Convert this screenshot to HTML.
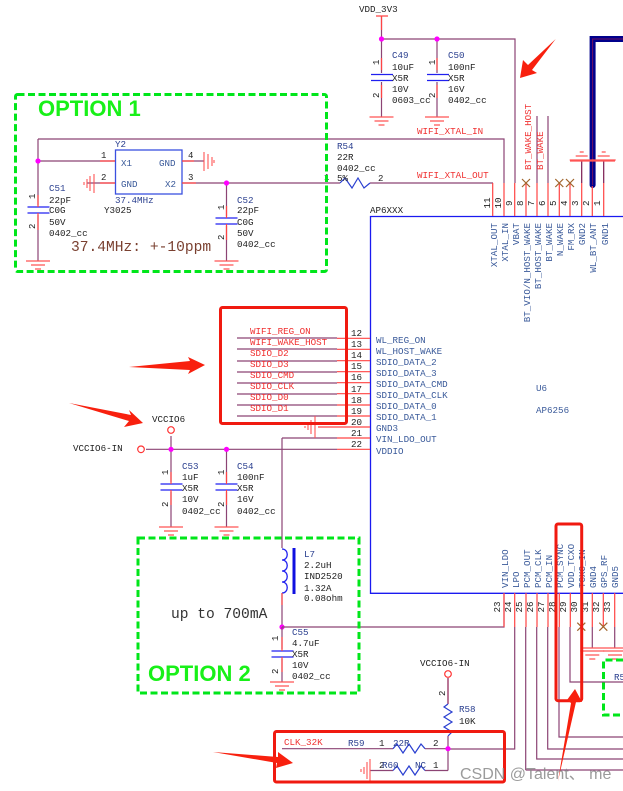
<!DOCTYPE html>
<html><head><meta charset="utf-8"><style>
html,body{margin:0;padding:0;background:#fff;width:623px;height:791px;overflow:hidden}
svg{display:block}
text{font-family:"Liberation Mono",monospace;font-size:9.2px;fill:#222}
.b{fill:#2a3f8f}.r{fill:#f03030}.k{fill:#222}.n{font-size:9px;fill:#222}
.pl{fill:#3a5a9a}
.w{stroke:#8c4474;stroke-width:1.2;fill:none}
.p{stroke:#f44;stroke-width:1.2;fill:none}
.z{stroke:#2a3fd0;stroke-width:1.2;fill:none}
.c{stroke:#2020f0;stroke-width:1.3;fill:none}
.g{fill:none;stroke:#00e61a;stroke-width:3;stroke-dasharray:7 3.5}
.rb{fill:none;stroke:#f01a10;stroke-width:3}
.opt{font-family:"Liberation Sans",sans-serif;font-weight:bold;font-size:22px;fill:#18f018}
.big{font-size:14.6px}
</style></head><body>
<svg width="623" height="791" viewBox="0 0 623 791" xmlns="http://www.w3.org/2000/svg">
<defs>
<g id="gd"><path d="M-12 0H12M-7 4H7M-3 8H3" stroke="#f55" stroke-width="1.2" fill="none"/></g>
<g id="gu"><path d="M-12 0H12M-6 -4H6M-2 -8H2" stroke="#f55" stroke-width="1.2" fill="none"/></g>
<g id="x"><path d="M-4 -4L4 4M4 -4L-4 4" stroke="#a0642a" stroke-width="1.2"/></g>
<circle id="d" r="2.6" fill="#f0f"/>
<circle id="o" r="3.3" fill="#fff" stroke="#f33" stroke-width="1.2"/>
<path id="cap" d="M-11 -3H11M-11 3H11" stroke="#2020f0" stroke-width="1.3" fill="none"/>
</defs>

<!-- wires -->
<path class="w" d="M38 139H504V183M38 139V261M38 161H115M182 161H204M87 183H115M182 183H340M370 183H493M226.500 183V261
M381.500 16V117M437 39V117M381.500 39H515V183M537 116V183M548 116V183"/>
<path class="p" d="M376 16H388M381.500 16V30M381.500 58V70M381.500 85V98M437 58V70M437 85V98"/>

<!-- thick wl bt ant -->
<path d="M592.600 185V39H623" fill="none" stroke="#00008c" stroke-width="6" stroke-linecap="round"/>
<path d="M592.600 185V39H623" fill="none" stroke="#701060" stroke-width="1"/>

<!-- Y2 -->
<rect x="115.500" y="150" width="66.500" height="44" fill="#fff" stroke="#3a50e0" stroke-width="1.3"/>
<path class="p" d="M100 161H115M182 161H194M100 183H115M182 183H196"/>
<path d="M204 152V171M208 154V169M212 157V166M214 160V163" stroke="#f55" stroke-width="1.1" fill="none"/>
<path d="M94 174V193M90 176V191M87 179V188M84 182V185" stroke="#f55" stroke-width="1.1" fill="none"/>
<text x="115" y="147" class="b">Y2</text>
<text x="121" y="166" class="pl">X1</text><text x="159" y="166" class="pl">GND</text>
<text x="121" y="187" class="pl">GND</text><text x="165" y="187" class="pl">X2</text>
<text x="101" y="158" class="n">1</text><text x="188" y="158" class="n">4</text>
<text x="101" y="180" class="n">2</text><text x="188" y="180" class="n">3</text>
<text x="115" y="203" class="b">37.4MHz</text><text x="104" y="213" class="k">Y3025</text>

<!-- C51 / C52 -->
<use href="#d" x="38" y="161"/><use href="#d" x="226.500" y="183"/>
<rect x="27" y="205" width="23" height="10" fill="#fff"/><use href="#cap" x="38.500" y="210"/>
<rect x="215" y="216" width="23" height="10" fill="#fff"/><use href="#cap" x="226.500" y="221"/>
<path class="p" d="M38 195V207M38 213V230M226.500 206V218M226.500 224V240"/>
<use href="#gd" x="38" y="261"/><use href="#gd" x="226.500" y="261"/>
<text x="49" y="191" class="b">C51</text><text x="49" y="203" class="k">22pF</text><text x="49" y="213" class="k">C0G</text><text x="49" y="225" class="k">50V</text><text x="49" y="236" class="k">0402_cc</text>
<text x="237" y="203" class="b">C52</text><text x="237" y="213" class="k">22pF</text><text x="237" y="225" class="k">C0G</text><text x="237" y="236" class="k">50V</text><text x="237" y="247" class="k">0402_cc</text>
<text transform="translate(35 199) rotate(-90)" class="n">1</text><text transform="translate(35 229) rotate(-90)" class="n">2</text>
<text transform="translate(224 210) rotate(-90)" class="n">1</text><text transform="translate(224 240) rotate(-90)" class="n">2</text>
<text x="71" y="251" class="big" style="fill:#7a4030">37.4MHz: +-10ppm</text>

<!-- R54 -->
<path class="z" d="M340 183L345 178L352 188L358 178L364 188L370 183"/>
<text x="337" y="149" class="b">R54</text><text x="337" y="160" class="k">22R</text><text x="337" y="171" class="k">0402_cc</text><text x="337" y="181" class="k">5%</text>
<text x="324" y="180" class="n">1</text><text x="378" y="181" class="n">2</text>
<text x="417" y="134" class="r">WIFI_XTAL_IN</text><text x="417" y="178" class="r">WIFI_XTAL_OUT</text>

<!-- C49 C50 -->
<use href="#d" x="381.500" y="39"/><use href="#d" x="437" y="39"/>
<rect x="370" y="73" width="24" height="9" fill="#fff"/><rect x="426" y="73" width="24" height="9" fill="#fff"/>
<use href="#cap" x="382" y="77.500"/><use href="#cap" x="438" y="77.500"/>
<use href="#gd" x="381.500" y="117"/><use href="#gd" x="437" y="117"/>
<text x="359" y="12" class="k">VDD_3V3</text>
<text x="392" y="58" class="b">C49</text><text x="392" y="70" class="k">10uF</text><text x="392" y="81" class="k">X5R</text><text x="392" y="92" class="k">10V</text><text x="392" y="103" class="k">0603_cc</text>
<text x="448" y="58" class="b">C50</text><text x="448" y="70" class="k">100nF</text><text x="448" y="81" class="k">X5R</text><text x="448" y="92" class="k">16V</text><text x="448" y="103" class="k">0402_cc</text>
<text transform="translate(379 65) rotate(-90)" class="n">1</text><text transform="translate(379 98) rotate(-90)" class="n">2</text>
<text transform="translate(435 65) rotate(-90)" class="n">1</text><text transform="translate(435 98) rotate(-90)" class="n">2</text>

<!-- IC outline -->
<path d="M623 216.500H370.500V593.300H623" fill="none" stroke="#1a1af0" stroke-width="1.3"/>
<text x="370" y="213" class="k">AP6XXX</text>
<text x="536" y="391" class="pl">U6</text><text x="536" y="413" class="pl">AP6256</text>

<!-- top pins -->
<path class="p" d="M492.700 183V216M504 183V216M514.700 183V216M526 183V216M537 183V216M548 183V216M559.300 183V216M570 183V216M581.700 183V216M592.300 186V216M603.700 183V216"/>
<path d="M581.700 161V183M603.700 161V183" stroke="#7a1a50" stroke-width="1.2"/>
<path d="M570 161H615" stroke="#f55" stroke-width="1.2"/>
<use href="#gu" x="581.700" y="160"/><use href="#gu" x="603.700" y="160"/>
<use href="#x" x="526" y="183"/><use href="#x" x="559.300" y="183"/><use href="#x" x="570" y="183"/>
<text transform="translate(531 170) rotate(-90)" class="r">BT_WAKE_HOST</text>
<text transform="translate(543 170) rotate(-90)" class="r">BT_WAKE</text>
<g class="n">
<text transform="translate(490 208.500) rotate(-90)">11</text><text transform="translate(501 208.500) rotate(-90)">10</text><text transform="translate(512 206) rotate(-90)">9</text><text transform="translate(523 206) rotate(-90)">8</text><text transform="translate(534 206) rotate(-90)">7</text><text transform="translate(545 206) rotate(-90)">6</text><text transform="translate(556 206) rotate(-90)">5</text><text transform="translate(567 206) rotate(-90)">4</text><text transform="translate(578 206) rotate(-90)">3</text><text transform="translate(589 206) rotate(-90)">2</text><text transform="translate(600 206) rotate(-90)">1</text>
</g>
<g text-anchor="end">
<text transform="translate(497 223) rotate(-90)" class="pl">XTAL_OUT</text><text transform="translate(508 223) rotate(-90)" class="pl">XTAL_IN</text><text transform="translate(519 223) rotate(-90)" class="pl">VBAT</text><text transform="translate(530 223) rotate(-90)" class="pl">BT_VIO/N_HOST_WAKE</text><text transform="translate(541 223) rotate(-90)" class="pl">BT_HOST_WAKE</text><text transform="translate(552 223) rotate(-90)" class="pl">BT_WAKE</text><text transform="translate(563 223) rotate(-90)" class="pl">N_WAKE</text><text transform="translate(574 223) rotate(-90)" class="pl">FM_RX</text><text transform="translate(585 223) rotate(-90)" class="pl">GND2</text><text transform="translate(596 223) rotate(-90)" class="pl">WL_BT_ANT</text><text transform="translate(608 223) rotate(-90)" class="pl">GND1</text>
</g>

<!-- left pins -->
<path class="w" d="M237 338H337M237 349H337M237 361H337M237 372H337M237 383H337M237 394H337M237 405H337M237 416H337M282 438H337M146 449.300H337M282 438V548M282 593V627M171 436V527M226.500 449V527"/>
<path class="p" d="M337 338.300H370M337 349.300H370M337 360.700H370M337 371.700H370M337 382.700H370M337 393.700H370M337 405H370M337 416H370M318 427H370M337 438H370M337 449.300H370"/>
<path d="M315 416V438M311 420V434M308 424V430M305 426V428" stroke="#f55" stroke-width="1.1" fill="none"/>
<g class="n">
<text x="351" y="336">12</text><text x="351" y="347">13</text><text x="351" y="358">14</text><text x="351" y="369">15</text><text x="351" y="380">16</text><text x="351" y="392">17</text><text x="351" y="403">18</text><text x="351" y="414">19</text><text x="351" y="425">20</text><text x="351" y="436">21</text><text x="351" y="447">22</text>
</g>
<g class="pl">
<text x="376" y="343" class="pl">WL_REG_ON</text><text x="376" y="354" class="pl">WL_HOST_WAKE</text><text x="376" y="365" class="pl">SDIO_DATA_2</text><text x="376" y="376" class="pl">SDIO_DATA_3</text><text x="376" y="387" class="pl">SDIO_DATA_CMD</text><text x="376" y="398" class="pl">SDIO_DATA_CLK</text><text x="376" y="409" class="pl">SDIO_DATA_0</text><text x="376" y="420" class="pl">SDIO_DATA_1</text><text x="376" y="431" class="pl">GND3</text><text x="376" y="442" class="pl">VIN_LDO_OUT</text><text x="376" y="454" class="pl">VDDIO</text>
</g>
<text x="250" y="334" class="r">WIFI_REG_ON</text><text x="250" y="345" class="r">WIFI_WAKE_HOST</text><text x="250" y="356" class="r">SDIO_D2</text><text x="250" y="367" class="r">SDIO_D3</text><text x="250" y="378" class="r">SDIO_CMD</text><text x="250" y="389" class="r">SDIO_CLK</text><text x="250" y="400" class="r">SDIO_D0</text><text x="250" y="411" class="r">SDIO_D1</text>

<!-- VCCIO -->
<text x="152" y="422" class="k">VCCIO6</text><text x="73" y="451" class="k">VCCIO6-IN</text>
<use href="#o" x="171" y="430"/><use href="#o" x="141" y="449.300"/>
<use href="#d" x="171" y="449.300"/><use href="#d" x="226.500" y="449.300"/>

<!-- C53 C54 -->
<rect x="160" y="482" width="23" height="10" fill="#fff"/><rect x="215" y="482" width="23" height="10" fill="#fff"/>
<use href="#cap" x="171.500" y="487"/><use href="#cap" x="226.500" y="487"/>
<path class="p" d="M171 472V484M171 490V505M226.500 472V484M226.500 490V505"/>
<use href="#gd" x="171" y="527"/><use href="#gd" x="226.500" y="527"/>
<text x="182" y="469" class="b">C53</text><text x="182" y="480" class="k">1uF</text><text x="182" y="491" class="k">X5R</text><text x="182" y="502" class="k">10V</text><text x="182" y="514" class="k">0402_cc</text>
<text x="237" y="469" class="b">C54</text><text x="237" y="480" class="k">100nF</text><text x="237" y="491" class="k">X5R</text><text x="237" y="502" class="k">16V</text><text x="237" y="514" class="k">0402_cc</text>
<text transform="translate(168 475) rotate(-90)" class="n">1</text><text transform="translate(168 507) rotate(-90)" class="n">2</text>
<text transform="translate(224 475) rotate(-90)" class="n">1</text><text transform="translate(224 507) rotate(-90)" class="n">2</text>

<!-- L7 -->
<path class="c" d="M282 549C289 549 289 560 282 560C289 560 289 571 282 571C289 571 289 582 282 582C289 582 289 593 282 593"/>
<path d="M294 548V594" stroke="#1010e0" stroke-width="3"/>
<path class="p" d="M282 593V605"/>
<text x="304" y="557" class="b">L7</text><text x="304" y="568" class="k">2.2uH</text><text x="304" y="579" class="k">IND2520</text><text x="304" y="591" class="k">1.32A</text><text x="304" y="601" class="k">0.08ohm</text>
<text x="171" y="618" class="big" style="fill:#333">up to 700mA</text>

<!-- C55 -->
<use href="#d" x="282" y="627"/>
<path class="w" d="M282 627H504V593M282 627V682"/>
<rect x="271" y="649" width="23" height="10" fill="#fff"/><use href="#cap" x="282.500" y="654"/>
<path class="p" d="M282 637V651M282 657V672"/>
<use href="#gd" x="282" y="682"/>
<text x="292" y="635" class="b">C55</text><text x="292" y="646" class="k">4.7uF</text><text x="292" y="657" class="k">X5R</text><text x="292" y="668" class="k">10V</text><text x="292" y="679" class="k">0402_cc</text>
<text transform="translate(278 641) rotate(-90)" class="n">1</text><text transform="translate(278 674) rotate(-90)" class="n">2</text>

<!-- bottom pins -->
<path class="w" d="M514.700 627V749H448M525.700 627V770M536.700 627V759H623M547.700 627V749H623M559 627V737H623M570 627V682H623M592.300 627V648M614.700 627V648"/>
<path class="p" d="M504 593V627M514.700 593V627M526 593V627M537 593V627M548 593V627M559.300 593V627M570.300 593V627M581.300 593V627M592.300 593V627M603.300 593V627M614.700 593V627"/>
<path class="w" d="M525.700 770H623"/>
<path d="M583 648H623" stroke="#f55" stroke-width="1.2"/>
<use href="#gd" x="592.300" y="651"/><use href="#gd" x="615" y="651"/>
<use href="#x" x="581.300" y="626.700"/><use href="#x" x="603.300" y="626.700"/>
<g class="n">
<text transform="translate(500 612.500) rotate(-90)">23</text><text transform="translate(511 612.500) rotate(-90)">24</text><text transform="translate(522 612.500) rotate(-90)">25</text><text transform="translate(533 612.500) rotate(-90)">26</text><text transform="translate(544 612.500) rotate(-90)">27</text><text transform="translate(555 612.500) rotate(-90)">28</text><text transform="translate(566 612.500) rotate(-90)">29</text><text transform="translate(577 612.500) rotate(-90)">30</text><text transform="translate(588 612.500) rotate(-90)">31</text><text transform="translate(599 612.500) rotate(-90)">32</text><text transform="translate(610 612.500) rotate(-90)">33</text>
</g>
<text transform="translate(508 588) rotate(-90)" class="pl">VIN_LDO</text><text transform="translate(519 588) rotate(-90)" class="pl">LPO</text><text transform="translate(530 588) rotate(-90)" class="pl">PCM_OUT</text><text transform="translate(541 588) rotate(-90)" class="pl">PCM_CLK</text><text transform="translate(552 588) rotate(-90)" class="pl">PCM_IN</text><text transform="translate(563 588) rotate(-90)" class="pl">PCM_SYNC</text><text transform="translate(574 588) rotate(-90)" class="pl">VDD_TCXO</text><text transform="translate(585 588) rotate(-90)" class="pl">TCXO_IN</text><text transform="translate(596 588) rotate(-90)" class="pl">GND4</text><text transform="translate(607 588) rotate(-90)" class="pl">GPS_RF</text><text transform="translate(618 588) rotate(-90)" class="pl">GND5</text>
<text x="614" y="680" class="b">R5</text>

<!-- R58 R59 R60 -->
<text x="420" y="666" class="k">VCCIO6-IN</text>
<use href="#o" x="448" y="674"/>
<path style="stroke:#8c1a50;stroke-width:1.2;fill:none" d="M448 678V704"/>
<path class="z" d="M448 704L444 707L452 712L444 717L452 722L444 727L452 732L448 736"/>
<path class="w" d="M448 736V770.500M282 748.700H393M425 748.700H448M448 770.500H425M393 770.500H370"/>
<text transform="translate(445 696) rotate(-90)" class="n">2</text>
<text x="459" y="712" class="b">R58</text><text x="459" y="724" class="k">10K</text>
<path class="z" d="M393 748.700L397 744L403 753L409 744L415 753L421 744L425 748.700"/>
<path class="z" d="M393 770.500L397 766L403 775L409 766L415 775L421 766L425 770.500"/>
<path d="M370 759V782M367 762V779M364 767V774M361 769V772" stroke="#f55" stroke-width="1.1" fill="none"/>
<use href="#d" x="448" y="748.700"/>
<text x="284" y="745" class="r">CLK_32K</text>
<text x="348" y="746" class="b">R59</text><text x="379" y="746" class="k">1</text><text x="393" y="746" class="b">22R</text><text x="433" y="746" class="k">2</text>
<text x="379" y="768" class="k">2</text><text x="382" y="768" class="b">R60</text><text x="415" y="768" class="b">NC</text><text x="433" y="768" class="k">1</text>

<!-- green boxes -->
<rect x="15.500" y="94.500" width="311" height="177" rx="2" class="g"/>
<rect x="138" y="538" width="221" height="155" class="g"/>
<path class="g" d="M623 660H603.500V715H623"/>
<text x="38" y="116" class="opt">OPTION 1</text>
<text x="148" y="681" class="opt">OPTION 2</text>

<!-- red boxes -->
<rect x="220.500" y="307.500" width="126" height="116" rx="2" class="rb"/>
<rect x="556" y="524" width="25.700" height="176.700" rx="2" class="rb"/>
<rect x="274.500" y="731.500" width="230" height="50.500" rx="2" class="rb"/>

<!-- arrows -->
<g fill="#f8200e">
<polygon points="555.700,39 532,70 537,73 520,78 523,60 528,65"/>
<polygon points="129,367 190,361 188,357 205,365 188,374 190,370"/>
<polygon points="69,403 131,415 129,410 143,423 124,427 129,421"/>
<polygon points="213,752 278,757 278,752 293,763 276,768 277,763"/>
<polygon points="558,781 571,703 567,700 575,689 582,702 576,702"/>
</g>

<text x="460" y="779" style="font-family:'Liberation Sans','Noto Sans CJK SC',sans-serif;font-size:16px;fill:#8a8a8a;opacity:.85">CSDN @Talent、 me</text>
</svg>
</body></html>
